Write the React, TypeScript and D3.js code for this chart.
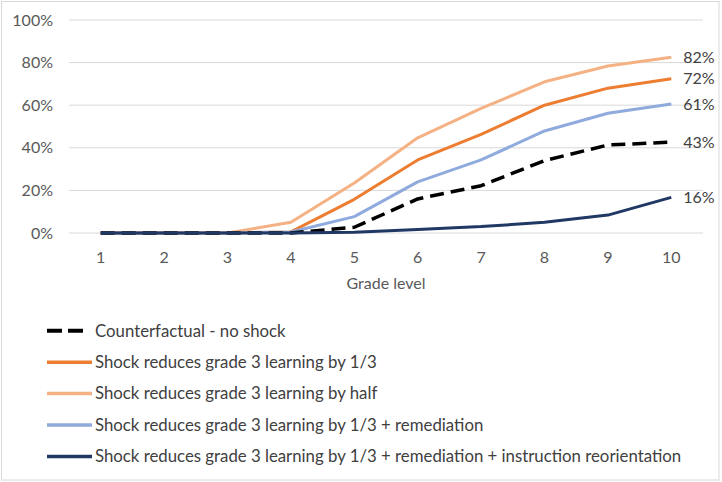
import React from "react";
import * as d3 from "d3";

const grades = [1, 2, 3, 4, 5, 6, 7, 8, 9, 10];
const counterfactual = [0, 0, 0, 0, 2.7, 16, 22.2, 34, 41.3, 42.7];
const shockThird = [0, 0, 0, 0.5, 15.8, 34.3, 46.3, 60, 68, 72.4];
const shockHalf = [0, 0, 0, 5, 23.5, 44.7, 58.5, 71, 78.4, 82.5];
const shockRemediation = [0, 0, 0, 0.5, 7.7, 24, 34.3, 47.9, 56.2, 60.6];
const shockReorientation = [0, 0, 0, 0, 0.3, 1.7, 3, 5, 8.4, 16.7];
const yTicks = [0, 20, 40, 60, 80, 100];
const endLabels = ["43%", "72%", "82%", "61%", "16%"];
const seriesNames = [
  "Counterfactual - no shock",
  "Shock reduces grade 3 learning by 1/3",
  "Shock reduces grade 3 learning by half",
  "Shock reduces grade 3 learning by 1/3 + remediation",
  "Shock reduces grade 3 learning by 1/3 + remediation + instruction reorientation",
];

const W = 722;
const H = 482;
const FONT = "Lato, 'Open Sans', sans-serif";

export default function App() {
  const series = [
    { name: seriesNames[0], values: counterfactual, color: "#000000", dash: "14,7", width: 3.5, label: endLabels[0] },
    { name: seriesNames[1], values: shockThird, color: "#ED7D31", dash: undefined, width: 3, label: endLabels[1] },
    { name: seriesNames[2], values: shockHalf, color: "#F4B183", dash: undefined, width: 3, label: endLabels[2] },
    { name: seriesNames[3], values: shockRemediation, color: "#8FAADC", dash: undefined, width: 3, label: endLabels[3] },
    { name: seriesNames[4], values: shockReorientation, color: "#203864", dash: undefined, width: 3, label: endLabels[4] },
  ];
  const drawOrder = [2, 1, 3, 0, 4];

  const x = d3.scaleBand<number>().domain(grades).range([69, 703]).padding(0);
  const cx = (g: number) => (x(g) as number) + x.bandwidth() / 2;
  const y = d3.scaleLinear().domain([0, 100]).range([233, 20]);
  const line = d3
    .line<number>()
    .x((_, i) => cx(grades[i]))
    .y((v) => y(v));

  const legendY = d3.scalePoint<number>().domain([0, 1, 2, 3, 4]).range([330.7, 456.5]);

  return (
    <svg
      width={W}
      height={H}
      style={{ position: "absolute", left: 0, top: 0, background: "#fff" }}
      fontFamily={FONT}
    >
      <rect x={1.5} y={1.5} width={717.5} height={478.5} fill="#fff" stroke="#d9d9d9" />
      {yTicks.map((t) => (
        <g key={t}>
          <line x1={69} x2={703} y1={y(t)} y2={y(t)} stroke="#d9d9d9" strokeWidth={1} />
          <text x={53} y={y(t)} dy="0.35em" textAnchor="end" fontSize={16} fill="#595959">
            {t}%
          </text>
        </g>
      ))}
      {grades.map((g) => (
        <text key={g} x={cx(g)} y={257} dy="0.35em" textAnchor="middle" fontSize={16} fill="#595959">
          {g}
        </text>
      ))}
      <text x={386} y={283} dy="0.35em" textAnchor="middle" fontSize={16} fill="#595959">
        Grade level
      </text>
      {drawOrder.map((i) => {
        const s = series[i];
        return (
          <path
            key={s.name}
            d={line(s.values) as string}
            fill="none"
            stroke={s.color}
            strokeWidth={s.width}
            strokeDasharray={s.dash}
            strokeLinejoin="round"
          />
        );
      })}
      {series.map((s) => {
        const last = s.values[s.values.length - 1];
        return (
          <text
            key={s.name + "lbl"}
            x={cx(10) + 12}
            y={y(last)}
            dy="0.35em"
            fontSize={16}
            fill="#404040"
          >
            {s.label}
          </text>
        );
      })}
      {series.map((s, i) => {
        const ly = legendY(i) as number;
        return (
          <g key={s.name + "leg"}>
            <line
              x1={47}
              x2={s.dash ? 85 : 92}
              y1={ly}
              y2={ly}
              stroke={s.color}
              strokeWidth={s.dash ? 4 : 3.5}
              strokeDasharray={s.dash ? "15,6" : undefined}
            />
            <text x={95} y={ly} dy="0.35em" fontSize={16.8} fill="#404040">
              {s.name}
            </text>
          </g>
        );
      })}
    </svg>
  );
}
